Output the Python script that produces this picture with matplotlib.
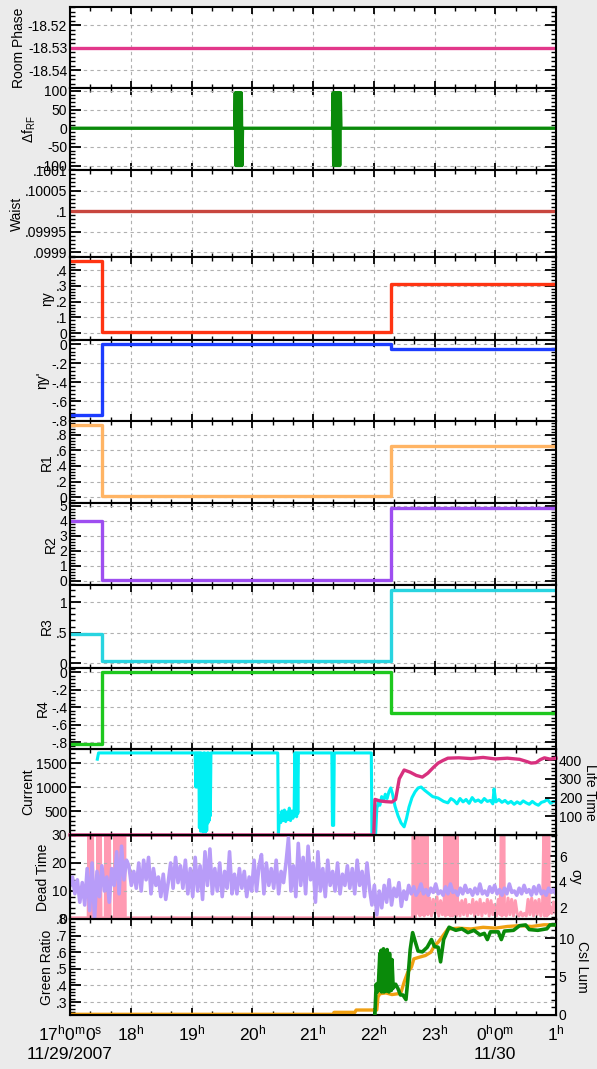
import numpy as np
import matplotlib
matplotlib.use("Agg")
from matplotlib import pyplot as plt
from matplotlib.ticker import AutoMinorLocator, MultipleLocator

plt.rcParams['font.family'] = ['Liberation Sans', 'DejaVu Sans']
plt.rcParams['mathtext.fontset'] = 'custom'
plt.rcParams['mathtext.rm'] = 'Liberation Sans'
plt.rcParams['mathtext.it'] = 'Liberation Sans:italic'

# time axis: hours after 17:00, 11/29/2007
hour_ticks = [0, 1, 2, 3, 4, 5, 6, 7, 8]
hour_labels = [r'$\mathregular{17^{h}0^{m}0^{s}}$' + '\n11/29/2007',
               r'$\mathregular{18^{h}}$', r'$\mathregular{19^{h}}$',
               r'$\mathregular{20^{h}}$', r'$\mathregular{21^{h}}$',
               r'$\mathregular{22^{h}}$', r'$\mathregular{23^{h}}$',
               r'$\mathregular{0^{h}0^{m}}$' + '\n11/30',
               r'$\mathregular{1^{h}}$']

# flat signals
phase_t = [0.0, 8.0]
room_phase = [-18.53, -18.53]
waist_t = [0.0, 8.0]
waist = [0.1, 0.1]

# RF frequency offset with two bursts
rf = [(0.0, 0), (2.71, 0), (2.72, 95), (2.73, -100), (2.74, 95), (2.75, -100),
      (2.76, 95), (2.77, -100), (2.78, 95), (2.79, -100), (2.80, 95), (2.81, -100),
      (2.82, 95), (2.83, -100), (2.84, 0), (4.32, 0), (4.33, 95), (4.34, -100),
      (4.35, 95), (4.36, -100), (4.37, 95), (4.38, -100), (4.39, 95), (4.40, -100),
      (4.41, 95), (4.42, -100), (4.43, 95), (4.44, -100), (4.45, 95), (4.46, 0),
      (8.0, 0)]

# step settings
step_t = [0.0, 0.52, 5.28, 8.0]
eta_y = [0.458, 0.005, 0.31, 0.31]
eta_yp = [-0.74, 0.0, -0.05, -0.05]
r1 = [0.93, 0.01, 0.66, 0.66]
r2 = [4.0, 0.05, 4.87, 4.87]
r3 = [0.48, 0.03, 1.2, 1.2]
r4 = [-0.82, -0.005, -0.47, -0.47]

# beam current (mA)
current = [(0.45, 1580), (0.47, 1710), (2.06, 1710),
           (2.07, 1000), (2.08, 1710), (2.09, 1000), (2.10, 1710), (2.11, 1050),
           (2.12, 1710), (2.13, 150), (2.14, 1710), (2.15, 80), (2.16, 1710),
           (2.17, 100), (2.18, 1700), (2.19, 60), (2.20, 1710), (2.21, 120),
           (2.22, 1710), (2.23, 60), (2.24, 1700), (2.25, 90), (2.26, 1710),
           (2.27, 250), (2.28, 1710), (2.29, 300), (2.30, 1700), (2.31, 400),
           (2.32, 1710), (3.42, 1710), (3.43, 30), (3.45, 400), (3.47, 260),
           (3.49, 500), (3.51, 300), (3.53, 520), (3.55, 280), (3.57, 480),
           (3.59, 320), (3.61, 560), (3.63, 300), (3.65, 500), (3.67, 350),
           (3.69, 540), (3.70, 1710), (3.71, 420), (3.72, 1710), (3.73, 380),
           (3.74, 1710), (3.75, 450), (3.76, 1710), (4.31, 1710), (4.32, 200),
           (4.34, 200), (4.35, 1710), (4.96, 1710), (4.97, 0), (5.03, 0),
           (5.05, 550), (5.08, 700), (5.10, 620), (5.13, 800), (5.16, 700),
           (5.19, 850), (5.22, 760), (5.25, 900), (5.28, 980), (5.31, 850),
           (5.35, 600), (5.40, 400), (5.45, 250), (5.50, 170), (5.54, 350),
           (5.58, 580), (5.63, 780), (5.68, 900), (5.73, 980), (5.78, 1000),
           (5.84, 930), (5.90, 870), (5.97, 800), (6.06, 770), (6.15, 700),
           (6.22, 670), (6.27, 760), (6.32, 720), (6.37, 650), (6.42, 760),
           (6.47, 690), (6.52, 740), (6.57, 660), (6.62, 780), (6.67, 700),
           (6.72, 730), (6.77, 680), (6.82, 760), (6.87, 700), (6.92, 720),
           (6.96, 650), (6.98, 960), (7.01, 690), (7.06, 740), (7.11, 680),
           (7.16, 720), (7.21, 660), (7.26, 700), (7.31, 640), (7.36, 690),
           (7.41, 650), (7.46, 710), (7.51, 670), (7.56, 640), (7.61, 700),
           (7.66, 650), (7.71, 620), (7.76, 680), (7.81, 700), (7.86, 740),
           (7.91, 660), (7.96, 700), (8.0, 690)]

# beam life time (min)
life = [(0.0, 0), (5.00, 0), (5.02, 190), (5.10, 182), (5.20, 178), (5.30, 176),
        (5.36, 190), (5.42, 300), (5.50, 347), (5.60, 335), (5.70, 318),
        (5.80, 309), (5.89, 330), (5.98, 360), (6.06, 384), (6.14, 398),
        (6.22, 410), (6.40, 412), (6.60, 408), (6.80, 414), (7.00, 406),
        (7.20, 410), (7.40, 404), (7.52, 392), (7.59, 384), (7.67, 386),
        (7.74, 402), (7.81, 412), (7.90, 405), (8.0, 410)]

# dead time (%), evenly sampled over the whole window
dead_time = [12, 15, 9, 14, 6, 13, 5, 18, 3, 20, 0,
             17, 8, 19, 10, 15, 6, 18, 12, 24, 9, 26, 14, 21,
             19, 12, 17, 11, 20, 10, 21, 14, 22, 9, 18, 12,
             15, 8, 16, 7, 13, 20, 11, 22, 13, 19, 11, 21, 9, 18, 8,
             22, 10, 19, 7, 24, 12, 25, 9, 18, 10, 20, 8, 17, 11, 24, 9,
             16, 9, 18, 11, 17, 8, 15, 10, 21, 10, 19, 23, 9, 20, 12, 18,
             11, 21, 9, 17, 13, 20, 29, 10, 19, 8, 27, 12, 22, 9, 26, 14,
             20, 6, 24, 10, 18, 8, 21, 12, 17, 10, 20, 9, 16, 12, 19, 11,
             18, 9, 21, 12, 17, 8, 20, 11,
             5, 12, 1.5, 10, 4,
             12, 6, 14, 5, 11, 8, 13, 4.5, 10, 7, 12,
             9, 11.5, 8.5, 10, 12.5, 9, 10.5, 8.5, 11, 9.5, 12.5, 9, 10, 8.5, 11.5,
             9, 12.5, 9.5, 10, 8.5, 11, 9, 12, 9.5, 10.5, 8.5, 11, 9, 12.5, 9,
             10, 8.5, 11.5, 9.5, 12, 9, 10.5, 8.5, 11, 9, 12.5, 9.5, 10, 8.5, 11,
             9, 12, 9.5, 10.5, 8.5, 11.5, 9, 12, 9, 10, 8.5, 11, 9.5, 10.5, 9]

# vertical beam size sigma_y
sigma_y = [(0.00, 1.15), (0.30, 1.15), (0.31, 8), (0.32, 1.15), (0.33, 8), (0.34, 1.15),
           (0.35, 8), (0.36, 1.15), (0.37, 8), (0.38, 1.15), (0.45, 1.15), (0.46, 8),
           (0.47, 1.15), (0.48, 8), (0.49, 1.15), (0.50, 8), (0.51, 1.15), (0.58, 1.15),
           (0.59, 8), (0.60, 1.15), (0.61, 8), (0.62, 1.15), (0.63, 8), (0.64, 1.15),
           (0.65, 8), (0.66, 1.15), (0.73, 1.15), (0.74, 8), (0.75, 1.15), (0.76, 8),
           (0.77, 1.15), (0.78, 8), (0.79, 1.15), (0.80, 8), (0.81, 1.15), (0.82, 8),
           (0.83, 1.15), (0.84, 8), (0.85, 1.15), (0.86, 8), (0.87, 1.15), (0.88, 8),
           (0.89, 1.15), (0.90, 8), (0.91, 1.15), (5.64, 1.15),
           (5.65, 8), (5.66, 1.2), (5.67, 8), (5.68, 1.2), (5.69, 8), (5.70, 2.5),
           (5.72, 8), (5.73, 1.5), (5.74, 2.6), (5.76, 1.3), (5.78, 8), (5.79, 1.4),
           (5.80, 8), (5.81, 2.2), (5.82, 8), (5.83, 1.3), (5.84, 8), (5.85, 1.5),
           (5.86, 8), (5.87, 2.0), (5.88, 8), (5.89, 1.4), (5.92, 2.7), (5.95, 1.3),
           (5.98, 2.6), (6.01, 1.5), (6.04, 2.8), (6.07, 1.3), (6.10, 2.5), (6.13, 1.4),
           (6.16, 2.6), (6.17, 8), (6.18, 1.3), (6.19, 8), (6.20, 1.5), (6.21, 8),
           (6.22, 1.4), (6.23, 8), (6.24, 2.0), (6.25, 8), (6.26, 1.3), (6.27, 8),
           (6.28, 1.6), (6.29, 8), (6.30, 1.3), (6.31, 8), (6.32, 1.5), (6.33, 8),
           (6.34, 1.4), (6.35, 8), (6.36, 1.3), (6.37, 8), (6.38, 1.5), (6.39, 2.4),
           (6.42, 1.3), (6.45, 2.5), (6.48, 1.4), (6.51, 2.6), (6.54, 1.3), (6.57, 2.2),
           (6.60, 1.5), (6.63, 2.6), (6.66, 1.3), (6.69, 2.4), (6.72, 1.4), (6.75, 2.6),
           (6.78, 1.3), (6.81, 2.3), (6.84, 1.5), (6.87, 2.6), (6.90, 1.3), (6.93, 2.5),
           (6.96, 1.4), (6.99, 2.2), (7.02, 1.3), (7.05, 2.6), (7.08, 1.4), (7.10, 8),
           (7.11, 1.3), (7.12, 8), (7.13, 1.4), (7.14, 8), (7.15, 2.2), (7.18, 1.3),
           (7.21, 2.7), (7.24, 1.4), (7.27, 2.6), (7.30, 1.3), (7.33, 2.5), (7.36, 1.5),
           (7.39, 1.3), (7.42, 1.6), (7.45, 1.3), (7.48, 1.5), (7.51, 1.3), (7.54, 2.6),
           (7.57, 1.4), (7.60, 2.7), (7.63, 1.3), (7.66, 2.5), (7.69, 1.4), (7.72, 2.6),
           (7.75, 1.3), (7.78, 2.4), (7.80, 8), (7.81, 1.3), (7.82, 8), (7.83, 1.5),
           (7.84, 8), (7.85, 1.3), (7.86, 8), (7.87, 1.4), (7.88, 8), (7.89, 1.6),
           (7.90, 2.0), (7.93, 1.5), (7.96, 2.4), (8.0, 1.5)]

# green ratio
green_ratio = [(0.0, 0.226), (4.33, 0.226), (4.35, 0.238), (4.69, 0.238), (4.71, 0.252),
               (5.05, 0.252), (5.07, 0.33), (5.10, 0.35), (5.20, 0.355), (5.30, 0.345),
               (5.40, 0.35), (5.45, 0.36), (5.50, 0.42), (5.56, 0.48), (5.62, 0.51),
               (5.66, 0.56), (5.75, 0.57), (5.85, 0.58), (5.94, 0.60), (6.00, 0.64),
               (6.06, 0.66), (6.14, 0.70), (6.22, 0.74), (6.40, 0.745), (6.60, 0.74),
               (6.80, 0.75), (7.00, 0.745), (7.20, 0.755), (7.40, 0.76), (7.60, 0.755),
               (7.80, 0.765), (8.0, 0.765)]

# CsI luminosity monitor
csi_lum = [(5.02, 0.2), (5.04, 4.0), (5.06, 3.0), (5.08, 4.5), (5.10, 8.0), (5.11, 3.2),
           (5.12, 8.4), (5.13, 3.0), (5.14, 7.5), (5.15, 3.5), (5.16, 8.6), (5.17, 3.0),
           (5.18, 8.2), (5.19, 3.3), (5.20, 7.8), (5.21, 3.1), (5.22, 8.5), (5.23, 3.4),
           (5.24, 7.0), (5.25, 3.0), (5.26, 8.0), (5.27, 3.5), (5.28, 6.5), (5.29, 3.2),
           (5.30, 7.2), (5.32, 3.5), (5.36, 4.0), (5.40, 3.4), (5.44, 2.6), (5.48, 2.6),
           (5.53, 2.0), (5.56, 4.5), (5.60, 8.5), (5.64, 10.7), (5.68, 9.6), (5.73, 8.3),
           (5.80, 8.2), (5.88, 8.8), (5.95, 9.8), (6.00, 8.9), (6.06, 8.8), (6.10, 6.9),
           (6.15, 9.8), (6.24, 11.4), (6.35, 11.0), (6.45, 11.2), (6.55, 10.7),
           (6.65, 11.0), (6.75, 10.4), (6.82, 10.6), (6.87, 9.8), (6.92, 10.8),
           (7.05, 10.8), (7.10, 9.8), (7.15, 10.9), (7.30, 11.0), (7.40, 11.6),
           (7.50, 11.7), (7.56, 11.1), (7.70, 11.0), (7.85, 11.2), (7.90, 11.7),
           (8.0, 11.7)]


def short(v):
    s = '%g' % v
    return s.replace('0.', '.', 1) if s.startswith(('0.', '-0.')) else s


W, H = 597.0, 1069.0
X0, X1 = 70, 556
EDGES = [7, 88, 170, 257, 340, 421, 503, 585, 668, 749, 835, 919, 1015]


def style_y(ax):
    ax.yaxis.set_minor_locator(AutoMinorLocator(5))
    ax.tick_params(axis='y', which='both', direction='in', labelsize=10, pad=2)
    ax.tick_params(axis='y', which='major', length=8, width=1.3)
    ax.tick_params(axis='y', which='minor', length=3.5, width=1.0)


def make_ax(i):
    top, bot = EDGES[i], EDGES[i + 1]
    ax = fig.add_axes([X0 / W, 1 - bot / H, (X1 - X0) / W, (bot - top) / H])
    ax.set_xlim(0, 8)
    ax.xaxis.set_major_locator(MultipleLocator(1))
    ax.xaxis.set_minor_locator(MultipleLocator(1 / 3))
    ax.tick_params(axis='x', which='both', direction='in', top=True, bottom=True,
                   labelbottom=False)
    ax.tick_params(axis='x', which='major', length=5, width=1.3)
    ax.tick_params(axis='x', which='minor', length=3, width=1.0)
    style_y(ax)
    ax.tick_params(axis='y', which='both', right=True)
    for s in ax.spines.values():
        s.set_linewidth(1.5)
    ax.grid(True, which='major', color='#b0b0b0', linestyle=(0, (3, 3)), linewidth=0.8)
    return ax


def set_yticks(ax, vals, lim):
    ax.set_ylim(*lim)
    ax.set_yticks(vals, [short(v) for v in vals])


def add_twin(ax, label, vals, lim):
    tw = ax.twinx()
    tw.set_xlim(0, 8)
    style_y(tw)
    set_yticks(tw, vals, lim)
    tw.set_ylabel(label, fontsize=10, rotation=270, labelpad=11)
    return tw


fig = plt.figure(figsize=(5.97, 10.69), dpi=100, facecolor='#ebebeb')

ax = make_ax(0)
ax.plot(phase_t, room_phase, color='#e2388a', lw=2.4)
set_yticks(ax, [-18.54, -18.53, -18.52], (-18.5478, -18.5118))
ax.set_ylabel('Room Phase', fontsize=10, labelpad=1)

ax = make_ax(1)
rf_t, rf_v = zip(*rf)
ax.plot(rf_t, rf_v, color='#0a8a0a', lw=2.4)
set_yticks(ax, [-100, -50, 0, 50, 100], (-112, 108))
ax.set_ylabel(r'$\Delta$f$_{\mathregular{RF}}$', fontsize=10, labelpad=1)

ax = make_ax(2)
ax.plot(waist_t, waist, color='#c8463e', lw=2.4)
set_yticks(ax, [0.0999, 0.09995, 0.1, 0.10005, 0.1001], (0.099888, 0.1001))
ax.set_ylabel('Waist', fontsize=10, labelpad=1)

step_panels = [
    (eta_y, '#ff3412', [0, 0.1, 0.2, 0.3, 0.4], (-0.044, 0.483), 'ηy'),
    (eta_yp, '#1c3cff', [-0.8, -0.6, -0.4, -0.2, 0], (-0.805, 0.042), "ηy'"),
    (r1, '#ffb464', [0, 0.2, 0.4, 0.6, 0.8], (-0.077, 0.98), 'R1'),
    (r2, '#9e4ef0', [0, 1, 2, 3, 4, 5], (-0.27, 5.2), 'R2'),
    (r3, '#28d4e0', [0, 0.5, 1], (-0.08, 1.28), 'R3'),
    (r4, '#1ec81e', [-0.8, -0.6, -0.4, -0.2, 0], (-0.88, 0.046), 'R4'),
]
for k, (vals, color, ticks, lim, label) in enumerate(step_panels):
    ax = make_ax(3 + k)
    ax.plot(step_t, vals, color=color, lw=2.4, drawstyle='steps-post')
    set_yticks(ax, ticks, lim)
    ax.set_ylabel(label, fontsize=10, labelpad=1)

# current / life time
ax = make_ax(9)
c_t, c_v = zip(*current)
ax.plot(c_t, c_v, color='#00f0f4', lw=2.2)
set_yticks(ax, [500, 1000, 1500], (0, 1792))
ax.set_ylabel('Current', fontsize=10, labelpad=1)
tw = add_twin(ax, 'Life Time', [100, 200, 300, 400], (0, 459))
l_t, l_v = zip(*life)
tw.plot(l_t, l_v, color='#d8307e', lw=2.4, clip_on=False)

# dead time / sigma_y (dead time drawn on top)
ax = make_ax(10)
ax.plot(np.linspace(0, 8, len(dead_time)), dead_time, color='#b89cf8', lw=2.6)
set_yticks(ax, [0, 10, 20, 30], (0, 30))
ax.set_ylabel('Dead Time', fontsize=10, labelpad=1)
tw = add_twin(ax, 'σy', [2, 4, 6], (1.06, 7.65))
s_t, s_v = zip(*sigma_y)
tw.plot(s_t, s_v, color='#ff9ab2', lw=2.2)
tw.set_zorder(ax.get_zorder() - 1)
tw.patch.set_visible(True)
tw.patch.set_facecolor('white')
ax.patch.set_visible(False)

# green ratio / CsI lum
ax = make_ax(11)
g_t, g_v = zip(*green_ratio)
ax.plot(g_t, g_v, color='#f0a012', lw=2.4)
set_yticks(ax, [0.3, 0.4, 0.5, 0.6, 0.7, 0.8], (0.222, 0.8))
ax.set_ylabel('Green Ratio', fontsize=10, labelpad=1)
tw = add_twin(ax, 'CsI Lum', [0, 5, 10], (0, 12.47))
k_t, k_v = zip(*csi_lum)
tw.plot(k_t, k_v, color='#0a8a0a', lw=2.6)
ax.tick_params(axis='x', labelbottom=True, labelsize=12.5, pad=6)
ax.set_xticks(hour_ticks, hour_labels)
for t in ax.get_xticklabels():
    t.set_linespacing(1.3)

fig.savefig('out.png', dpi=100, facecolor=fig.get_facecolor())
